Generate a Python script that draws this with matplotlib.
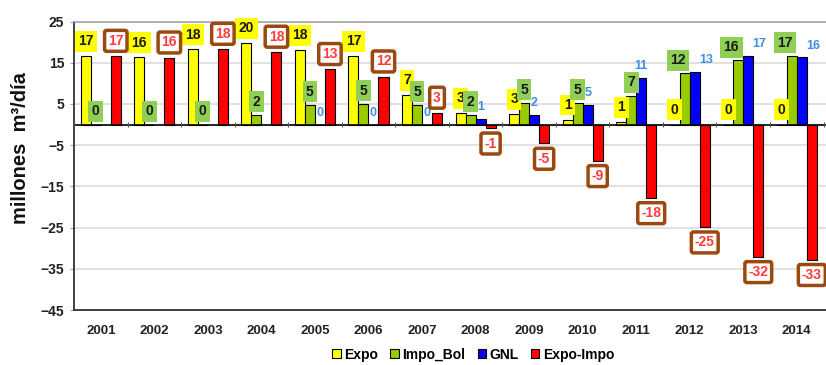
import numpy as np
import matplotlib.pyplot as plt

plt.rcParams['font.family'] = ['Liberation Sans', 'DejaVu Sans']
plt.rcParams['font.weight'] = 'bold'

years = ['2001', '2002', '2003', '2004', '2005', '2006', '2007',
         '2008', '2009', '2010', '2011', '2012', '2013', '2014']
expo = [16.7, 16.3, 18.3, 19.8, 18.1, 16.7, 7.2, 2.8, 2.6, 1.2, 0.6, 0.0, 0.0, 0.0]
impo_bol = [0.0, 0.0, 0.0, 2.3, 4.8, 5.0, 4.7, 2.3, 5.2, 5.2, 7.0, 12.4, 15.6, 16.6]
gnl = [np.nan, np.nan, np.nan, np.nan, 0.0, 0.0, 0.0, 1.3, 2.3, 4.8, 11.3, 12.7, 16.6, 16.3]
expo_impo = [16.6, 16.2, 18.3, 17.6, 13.4, 11.6, 2.8, -0.9, -4.6, -8.8, -17.8, -24.9, -32.1, -32.8]

fig = plt.figure(figsize=(8.26, 3.65), dpi=100)
ax = fig.add_axes([74 / 826, 1 - 310 / 365, (830 - 74) / 826, (310 - 21.5) / 365])

x = np.arange(len(years))
w = 0.187
edge = dict(edgecolor='black', linewidth=0.8, zorder=3)
ax.bar(x - 1.5 * w, expo, w, color='#ffff00', label='Expo', **edge)
ax.bar(x - 0.5 * w, impo_bol, w, color='#99cc00', label='Impo_Bol', **edge)
ax.bar(x + 0.5 * w, gnl, w, color='#0000ff', label='GNL', **edge)
ax.bar(x + 1.5 * w, expo_impo, w, color='#ff0000', label='Expo-Impo', **edge)

# value labels
for i in range(len(years)):
    # push the green and blue labels apart when both bars are tall
    crowded = not np.isnan(gnl[i]) and gnl[i] > 12
    ax.annotate(f'{expo[i]:.0f}', (x[i] - 1.5 * w, expo[i]), xytext=(0, 10.5),
                textcoords='offset points', ha='center', va='center',
                fontsize=10, color='#1a1a1a', zorder=6, annotation_clip=False,
                bbox=dict(boxstyle='square,pad=0.25', fc='#ffff00', ec='none'))
    ax.annotate(f'{impo_bol[i]:.0f}', (x[i] - 0.5 * w, impo_bol[i]),
                xytext=(-5 if crowded else 0, 9.5),
                textcoords='offset points', ha='center', va='center',
                fontsize=10, color='#1a1a1a', zorder=6, annotation_clip=False,
                bbox=dict(boxstyle='square,pad=0.25', fc='#8fcf55', ec='none'))
    if not np.isnan(gnl[i]):
        ax.annotate(f'{gnl[i]:.0f}', (x[i] + 0.5 * w, gnl[i]),
                    xytext=(8 if crowded else 0, 8.5),
                    textcoords='offset points', ha='center', va='center',
                    fontsize=9, color='#3d8ee0', zorder=7, annotation_clip=False)
    off = 11 if expo_impo[i] >= 0 else -11
    ax.annotate(f'{expo_impo[i]:.0f}', (x[i] + 1.5 * w, expo_impo[i]), xytext=(0, off),
                textcoords='offset points', ha='center', va='center',
                fontsize=10, color='#ff3b3b', zorder=7, annotation_clip=False,
                bbox=dict(boxstyle='round,pad=0.25,rounding_size=0.15', fc='white',
                          ec='#9a4a10', lw=2.5))

# zero line with category separators
ax.axhline(0, color='black', lw=1.2, zorder=4)
ax.vlines(np.arange(len(years) + 1) - 0.5, -0.7, 0.7, color='#555555', lw=0.8, zorder=4)

ax.set_xlim(-0.5, 13.62)
ax.set_ylim(-45, 25)
ax.set_yticks(np.arange(-45, 26, 10))
ax.set_xticks(x)
ax.set_xticklabels(years, fontsize=9.5, color='#222222')
ax.tick_params(axis='x', length=0, pad=11)
ax.tick_params(axis='y', length=3, width=0.6, color='#888888', labelsize=10,
               labelcolor='#222222', pad=4)
ax.grid(axis='y', color='#dcdcdc', lw=1.2, zorder=0)
ax.set_axisbelow(True)

for s in ['left', 'bottom']:
    ax.spines[s].set_color('#333333')
    ax.spines[s].set_linewidth(1.3)
ax.spines['top'].set_color('#a6a6a6')
ax.spines['top'].set_linewidth(1.2)
ax.spines['right'].set_visible(False)

fig.text(21 / 826, 1 - 148 / 365, 'millones  m³/día', rotation=90,
         ha='center', va='center', fontsize=14.5, color='#111111')

fig.legend(loc='center', bbox_to_anchor=(0.573, 0.028), ncol=4, frameon=False,
           fontsize=10, handlelength=0.6, handleheight=0.6, handletextpad=0.25,
           columnspacing=0.9, borderaxespad=0)

fig.savefig('out.png', dpi=100)
